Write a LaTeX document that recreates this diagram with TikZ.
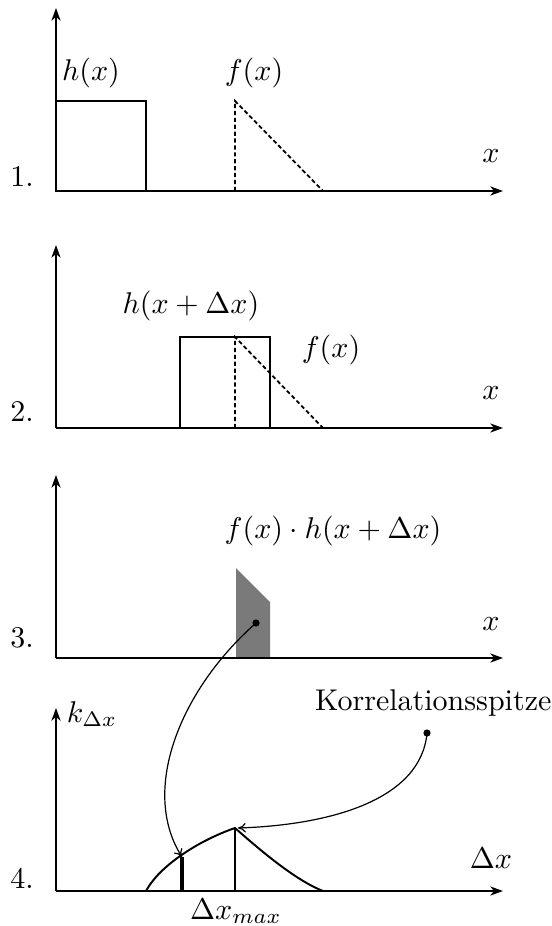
\documentclass[tikz,border=0pt]{standalone}
\usetikzlibrary{arrows.meta}
\begin{document}
\begin{tikzpicture}[x=0.3333pt,y=-0.3333pt,
  axis/.style={line width=0.65pt,-{Stealth[length=4.2pt,width=3pt,inset=1.2pt]}},
  shapeline/.style={line width=0.65pt},
  dashedline/.style={line width=0.6pt,dash pattern=on 1.4pt off 0.9pt},
  link/.style={line width=0.4pt,-{To[length=2.6pt,width=3.2pt]}},
  dotnode/.style={circle,fill=black,inner sep=0pt,minimum size=2.4pt}]
\useasboundingbox (0,0) rectangle (552,926);

% ---------- Panel 1 ----------
\coordinate (o1) at (56,191); \coordinate (ya1) at (56,8); \coordinate (xa1) at (503,191);
\draw[axis] (o1) -- (ya1);
\draw[axis] (o1) -- (xa1);
\draw[shapeline] (56,191) rectangle (146,101);
\draw[dashedline] (235,191) -- (235,101) -- (323,191) -- cycle;
\node (h1) at (91,73) {$h(x)$};
\node (f1) at (254,73) {$f(x)$};
\node (x1) at (491,156) {$x$};
\node (n1) at (22,177) {1.};

% ---------- Panel 2 ----------
\coordinate (o2) at (56,428); \coordinate (ya2) at (56,245); \coordinate (xa2) at (503,428);
\draw[axis] (o2) -- (ya2);
\draw[axis] (o2) -- (xa2);
\draw[shapeline] (180,428) rectangle (270,337);
\draw[dashedline] (235,428) -- (235,337) -- (323,428) -- cycle;
\node (h2) at (191,306) {$h(x+\Delta x)$};
\node (f2) at (331,350) {$f(x)$};
\node (x2) at (491,393) {$x$};
\node (n2) at (22,412) {2.};

% ---------- Panel 3 ----------
\coordinate (o3) at (56,658); \coordinate (ya3) at (56,475); \coordinate (xa3) at (503,658);
\fill[black!52] (236,658) -- (236,568) -- (270,602) -- (270,658) -- cycle;
\draw[axis] (o3) -- (ya3);
\draw[axis] (o3) -- (xa3);
\node (fh3) at (333,531) {$f(x)\cdot h(x+\Delta x)$};
\node (x3) at (491,624) {$x$};
\node (n3) at (22,638) {3.};
\node[dotnode] (d3) at (256,623) {};

% ---------- Panel 4 ----------
\coordinate (o4) at (56,891); \coordinate (ya4) at (56,708); \coordinate (xa4) at (503,891);
\draw[axis] (o4) -- (ya4);
\draw[axis] (o4) -- (xa4);
\coordinate (cs) at (146,891);
\coordinate (pk) at (235,828);
\coordinate (ce) at (323,891);
\coordinate (tk) at (182,857);
\draw[shapeline] (cs) .. controls (160,865) and (200,840) .. (pk)
  .. controls (260,850) and (295,880) .. (ce);
\draw[line width=0.4pt] (pk) -- (235,891);
\draw[line width=1.4pt] (tk) -- (182,891);
\node (k4) at (92,714) {$k_{\Delta x}$};
\node (dx4) at (491,858) {$\Delta x$};
\node (dm4) at (236,911) {$\Delta x_{max}$};
\node (n4) at (22,878) {4.};
\node[anchor=east,inner sep=0pt] (ks) at (552,703) {Korrelationsspitze};
\node[dotnode] (d4) at (427,733) {};

% ---------- connectors ----------
\draw[link] (d3.center) .. controls (180,690) and (140,790) .. (tk);
\draw[link] (d4.center) .. controls (421,800) and (330,825) .. ([xshift=1pt]pk);
\end{tikzpicture}
\end{document}
